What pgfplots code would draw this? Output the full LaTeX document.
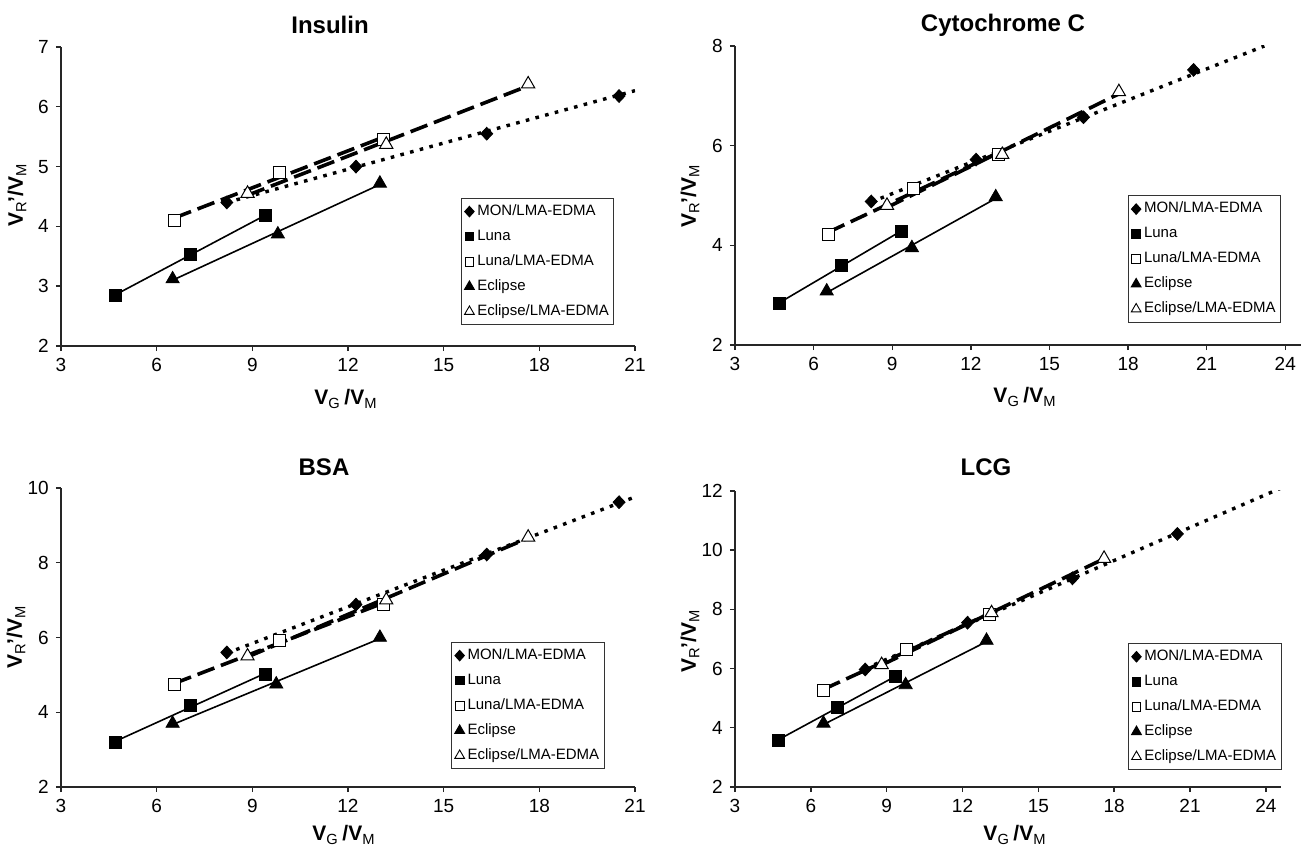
\documentclass[border=0pt]{standalone}
\usepackage{fontspec}
\setmainfont{Liberation Sans}
\usepackage{pgfplots}
\pgfplotsset{compat=1.18}

% legend images: one mark, no line
\pgfplotsset{legend image code/.code={\draw[#1] plot coordinates {(0.09cm,0cm)};}}

\pgfplotsset{
  panel/.style={
    scale only axis,
    axis x line*=bottom, axis y line*=left,
    axis line style={line width=0.7pt, black!85},
    tick style={line width=0.7pt, black!85},
    tick align=outside, major tick length=2.6pt,
    xmin=3, ymin=2,
    xtick={3,6,...,24},
    /pgf/number format/assume math mode=true,
    ticklabel style={font=\fontsize{9.5}{11}\selectfont},
    legend cell align=left,
    legend style={anchor=north west, draw=black!80, line width=0.5pt,
      font=\fontsize{7.5}{8.5}\selectfont, inner xsep=1.5pt, inner ysep=2pt,
      row sep=3.4pt, column sep=0.5pt,
      nodes={text height=5.5pt, text depth=1.6pt, inner sep=1pt}},
  },
  mon/.style={mark=diamond*, mark size=3.2pt, black, mark options={xscale=1.25}},
  luna/.style={mark=square*, mark size=3pt, black},
  lunal/.style={mark=square*, mark size=3pt, mark options={fill=white, draw=black, line width=0.5pt}},
  ecl/.style={mark=triangle*, mark size=3.8pt, black},
  ecll/.style={mark=triangle*, mark size=3.8pt, mark options={fill=white, draw=black, line width=0.5pt}},
  solidtrend/.style={black, line width=0.8pt},
  dashtrend/.style={black, line width=1.8pt, dash pattern=on 9pt off 3.5pt},
  dottrend/.style={black, line width=1.7pt, dash pattern=on 1.8pt off 3.2pt},
}

\newcommand\legendblock{%
  \addlegendimage{mark=diamond*, mark size=2.6pt, black, mark options={xscale=1.2}}\addlegendentry{MON/LMA-EDMA}
  \addlegendimage{mark=square*, mark size=2.2pt, black}\addlegendentry{Luna}
  \addlegendimage{mark=square*, mark size=2.2pt, mark options={fill=white, draw=black, line width=0.45pt}}\addlegendentry{Luna/LMA-EDMA}
  \addlegendimage{mark=triangle*, mark size=2.8pt, black}\addlegendentry{Eclipse}
  \addlegendimage{mark=triangle*, mark size=2.8pt, mark options={fill=white, draw=black, line width=0.45pt}}\addlegendentry{Eclipse/LMA-EDMA}
}

\newcommand\xlab{\bfseries V\textsubscript{\mdseries G}\,/V\textsubscript{\mdseries M}}
\newcommand\ylab{\bfseries V\textsubscript{\mdseries R}\kern-0.8pt'/V\textsubscript{\mdseries M}}

\begin{document}
\begin{tikzpicture}
\useasboundingbox (0,0) rectangle (650.5pt,422.5pt);

% ---------------- Insulin ----------------
\begin{axis}[panel, at={(30.5pt,249.5pt)}, anchor=south west,
  width=287pt, height=149.5pt, xmax=21, ymax=7, ytick={2,3,...,7},
  legend style={at={(0.697,0.495)}}]
\legendblock
\addplot[solidtrend, forget plot] coordinates {(4.7,2.855) (9.4,4.185)};
\addplot[solidtrend, forget plot] coordinates {(6.5,3.10) (13.0,4.70)};
\addplot[dottrend, forget plot] coordinates {(8.2,4.40) (21,6.27)};
\addplot[dashtrend, forget plot] coordinates {(6.55,4.14) (13.1,5.49)};
\addplot[dashtrend, forget plot] coordinates {(8.85,4.52) (17.65,6.35)};
\addplot[only marks, mon, forget plot] coordinates {(8.2,4.40) (12.25,5.0) (16.35,5.55) (20.5,6.18)};
\addplot[only marks, luna, forget plot] coordinates {(4.7,2.85) (7.05,3.53) (9.4,4.18)};
\addplot[only marks, lunal, forget plot] coordinates {(6.55,4.1) (9.85,4.9) (13.1,5.45)};
\addplot[only marks, ecl, forget plot] coordinates {(6.5,3.12) (9.8,3.87) (13.0,4.72)};
\addplot[only marks, ecll, forget plot] coordinates {(8.85,4.55) (13.2,5.37) (17.65,6.38)};
\end{axis}

% ---------------- Cytochrome C ----------------
\begin{axis}[panel, at={(367.5pt,250pt)}, anchor=south west,
  width=283pt, height=149.5pt, xmax=24.6, ymax=8, ytick={2,4,6,8},
  legend style={at={(0.694,0.5)}}]
\legendblock
\addplot[solidtrend, forget plot] coordinates {(4.7,2.85) (9.35,4.29)};
\addplot[solidtrend, forget plot] coordinates {(6.5,3.05) (12.95,4.94)};
\addplot[dottrend, forget plot] coordinates {(8.2,4.87) (23.2,8.0)};
\addplot[dashtrend, forget plot] coordinates {(6.55,4.26) (13.05,5.86)};
\addplot[dashtrend, forget plot] coordinates {(8.8,4.76) (17.65,7.04)};
\addplot[only marks, mon, forget plot] coordinates {(8.2,4.88) (12.2,5.72) (16.3,6.57) (20.5,7.52)};
\addplot[only marks, luna, forget plot] coordinates {(4.7,2.83) (7.05,3.6) (9.35,4.28)};
\addplot[only marks, lunal, forget plot] coordinates {(6.55,4.22) (9.8,5.15) (13.05,5.82)};
\addplot[only marks, ecl, forget plot] coordinates {(6.5,3.08) (9.75,3.95) (12.95,4.97)};
\addplot[only marks, ecll, forget plot] coordinates {(8.8,4.8) (13.2,5.82) (17.65,7.08)};
\end{axis}

% ---------------- BSA ----------------
\begin{axis}[panel, at={(30.5pt,29pt)}, anchor=south west,
  width=287pt, height=149.5pt, xmax=21, ymax=10, ytick={2,4,...,10},
  legend style={at={(0.68,0.485)}}]
\legendblock
\addplot[solidtrend, forget plot] coordinates {(4.7,3.22) (9.4,5.04)};
\addplot[solidtrend, forget plot] coordinates {(6.5,3.67) (13.0,5.97)};
\addplot[dottrend, forget plot] coordinates {(8.2,5.58) (21,9.76)};
\addplot[dashtrend, forget plot] coordinates {(6.55,4.77) (13.1,6.92)};
\addplot[dashtrend, forget plot] coordinates {(8.85,5.48) (17.65,8.66)};
\addplot[only marks, mon, forget plot] coordinates {(8.2,5.6) (12.25,6.88) (16.35,8.22) (20.5,9.62)};
\addplot[only marks, luna, forget plot] coordinates {(4.7,3.2) (7.05,4.17) (9.4,5.02)};
\addplot[only marks, lunal, forget plot] coordinates {(6.55,4.73) (9.85,5.93) (13.1,6.88)};
\addplot[only marks, ecl, forget plot] coordinates {(6.5,3.7) (9.75,4.75) (13.0,6.0)};
\addplot[only marks, ecll, forget plot] coordinates {(8.85,5.5) (13.2,7.0) (17.65,8.68)};
\end{axis}

% ---------------- LCG ----------------
\begin{axis}[panel, at={(367.5pt,29pt)}, anchor=south west,
  width=273pt, height=148pt, xmax=24.6, ymax=12, ytick={2,4,...,12},
  legend style={at={(0.72,0.486)}}]
\legendblock
\addplot[solidtrend, forget plot] coordinates {(4.7,3.59) (9.35,5.74)};
\addplot[solidtrend, forget plot] coordinates {(6.5,4.11) (12.95,6.91)};
\addplot[dottrend, forget plot] coordinates {(8.15,6.0) (24.6,12.1)};
\addplot[dashtrend, forget plot] coordinates {(6.5,5.30) (13.05,7.85)};
\addplot[dashtrend, forget plot] coordinates {(8.8,6.12) (17.6,9.71)};
\addplot[only marks, mon, forget plot] coordinates {(8.15,5.97) (12.2,7.55) (16.35,9.05) (20.5,10.55)};
\addplot[only marks, luna, forget plot] coordinates {(4.7,3.57) (7.05,4.7) (9.35,5.72)};
\addplot[only marks, lunal, forget plot] coordinates {(6.5,5.27) (9.8,6.65) (13.05,7.82)};
\addplot[only marks, ecl, forget plot] coordinates {(6.5,4.15) (9.75,5.45) (12.95,6.95)};
\addplot[only marks, ecll, forget plot] coordinates {(8.8,6.13) (13.15,7.88) (17.6,9.72)};
\end{axis}

% titles and axis labels
\node[font=\fontsize{12}{14}\selectfont\bfseries] at (165pt,410pt) {Insulin};
\node[font=\fontsize{12}{14}\selectfont\bfseries] at (501.5pt,410pt) {Cytochrome C};
\node[font=\fontsize{12}{14}\selectfont\bfseries] at (162pt,189pt) {BSA};
\node[font=\fontsize{12}{14}\selectfont\bfseries] at (493pt,189pt) {LCG};
\node[font=\fontsize{10.5}{12}\selectfont] at (173pt,223pt) {\xlab};
\node[font=\fontsize{10.5}{12}\selectfont] at (512.5pt,224pt) {\xlab};
\node[font=\fontsize{10.5}{12}\selectfont] at (172pt,5pt) {\xlab};
\node[font=\fontsize{10.5}{12}\selectfont] at (507.5pt,5pt) {\xlab};
\node[font=\fontsize{10.5}{12}\selectfont, rotate=90] at (8.5pt,325pt) {\ylab};
\node[font=\fontsize{10.5}{12}\selectfont, rotate=90] at (345pt,324.5pt) {\ylab};
\node[font=\fontsize{10.5}{12}\selectfont, rotate=90] at (8pt,104pt) {\ylab};
\node[font=\fontsize{10.5}{12}\selectfont, rotate=90] at (345pt,102pt) {\ylab};
\end{tikzpicture}
\end{document}
